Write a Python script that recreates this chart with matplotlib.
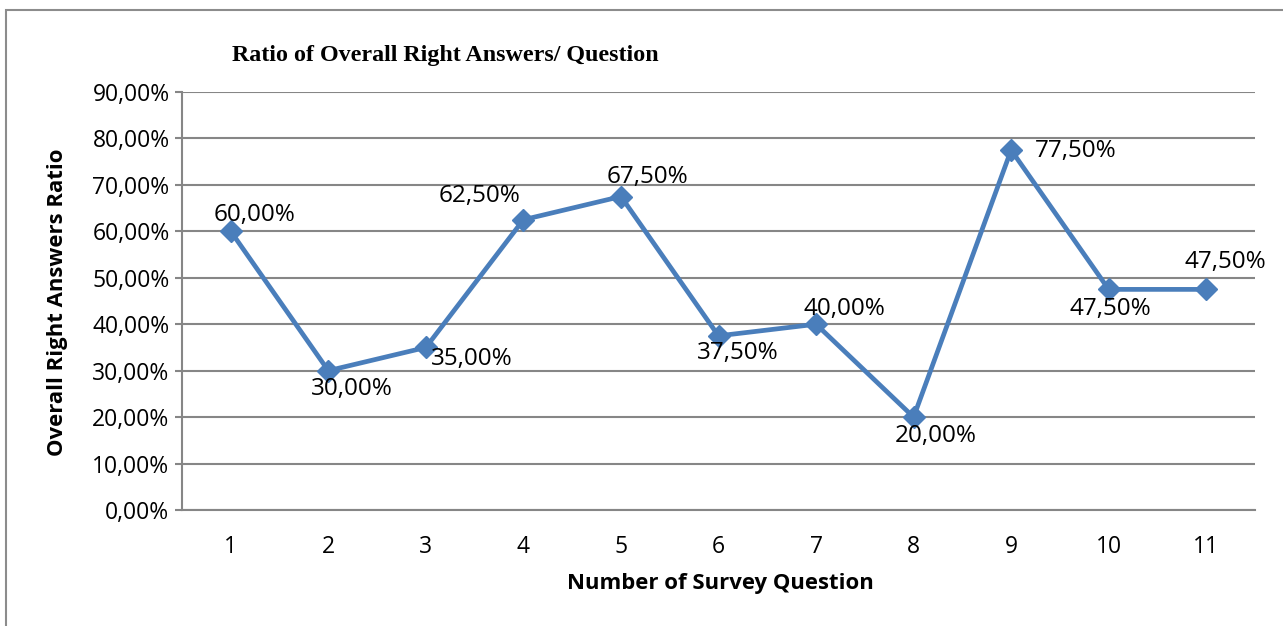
import matplotlib
matplotlib.use("Agg")
import matplotlib.pyplot as plt
from matplotlib.patches import Rectangle

questions = [1, 2, 3, 4, 5, 6, 7, 8, 9, 10, 11]
ratios = [60.0, 30.0, 35.0, 62.5, 67.5, 37.5, 40.0, 20.0, 77.5, 47.5, 47.5]
# label offsets in pixels (dx, dy) relative to each point
offsets = [(24, 16), (24, -18), (46, -12), (-44, 24), (27, 20), (19, -17),
           (28, 15), (22, -19), (65, -1), (2, -20), (19, 27)]

fig = plt.figure(figsize=(12.83, 6.26), dpi=100)
W, H = 1283, 626
ax = fig.add_axes([182 / W, 1 - 510 / H, (1255 - 182) / W, (510 - 92) / H])

fig.patches.append(Rectangle((6 / W, -0.1), 1.2, 1 - 10 / H + 0.1,
                             transform=fig.transFigure, fill=False,
                             edgecolor="#8c8c8c", linewidth=1.5))

ax.plot(questions, ratios, color="#4a7ebb", linewidth=3.4, marker="D",
        markersize=11, zorder=3)

for q, r, (dx, dy) in zip(questions, ratios, offsets):
    ax.annotate(f"{r:.2f}%".replace(".", ","), (q, r), xytext=(dx * 0.72, dy * 0.72),
                textcoords="offset points", ha="center", va="center",
                fontsize=17.5, family="Open Sans")

ax.set_xlim(0.5, 11.5)
ax.set_ylim(0, 90)
ax.set_xticks(questions)
ax.set_yticks(range(0, 91, 10))
ax.set_yticklabels([f"{v},00%" for v in range(0, 91, 10)])
ax.tick_params(axis="x", length=0, pad=18, labelsize=16.5)
ax.tick_params(axis="y", length=5, color="#868686", width=1.5, pad=4, labelsize=16.5)
for lab in ax.get_xticklabels() + ax.get_yticklabels():
    lab.set_family("Open Sans")

ax.grid(axis="y", color="#868686", linewidth=1.5)
ax.set_axisbelow(True)
for s in ["top", "right"]:
    ax.spines[s].set_visible(False)
for s in ["left", "bottom"]:
    ax.spines[s].set_color("#868686")
    ax.spines[s].set_linewidth(1.5)

fig.text(232 / W, 1 - 55 / H, "Ratio of Overall Right Answers/ Question",
         family="Liberation Serif", weight="bold", fontsize=17.3, va="center")
fig.text(58 / W, 1 - 302 / H, "Overall Right Answers Ratio", rotation=90,
         family="Open Sans", weight="bold", fontsize=15.9, ha="center", va="center")
fig.text(720 / W, 1 - 584 / H, "Number of Survey Question",
         family="Open Sans", weight="bold", fontsize=15.9, ha="center", va="center")

fig.savefig("out.png", dpi=100)
